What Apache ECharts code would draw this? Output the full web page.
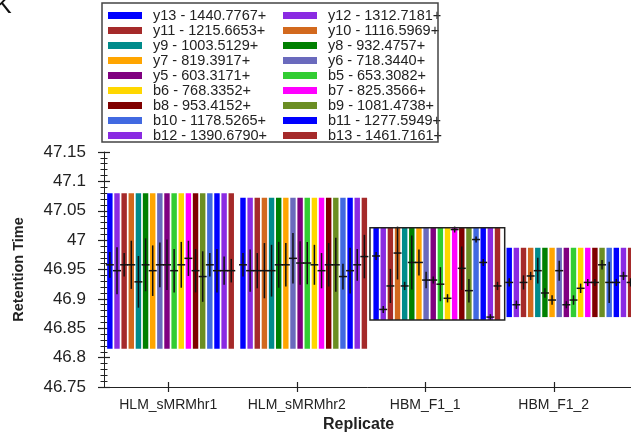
<!DOCTYPE html>
<html>
<head>
<meta charset="utf-8">
<script src="https://cdn.jsdelivr.net/npm/echarts@6/dist/echarts.min.js"></script>
<style>
html,body{margin:0;padding:0;background:#fff;}
#chart{width:631px;height:437px;}
</style>
</head>
<body>
<div id="chart"></div>
<script>
// ---- data ----
const categories = ['HLM_sMRMhr1', 'HLM_sMRMhr2', 'HBM_F1_1', 'HBM_F1_2'];
const peakStart = [46.815, 46.815, 46.864, 46.869];
const peakEnd = [47.080, 47.072, 47.021, 46.987];
const selectedReplicate = 2;
const ionNames = [
  'y13 - 1440.7767+', 'y12 - 1312.7181+', 'y11 - 1215.6653+', 'y10 - 1116.5969+',
  'y9 - 1003.5129+', 'y8 - 932.4757+', 'y7 - 819.3917+', 'y6 - 718.3440+',
  'y5 - 603.3171+', 'b5 - 653.3082+', 'b6 - 768.3352+', 'b7 - 825.3566+',
  'b8 - 953.4152+', 'b9 - 1081.4738+', 'b10 - 1178.5265+', 'b11 - 1277.5949+',
  'b12 - 1390.6790+', 'b13 - 1461.7161+'
];
const ionColors = [
  '#0000FF', '#8A2BE2', '#A52A2A', '#D2691E', '#008B8B', '#008000', '#FFA500', '#6A6ABD',
  '#800080', '#32CD32', '#FFD700', '#FF00FF', '#800000', '#6B8E23', '#4169E1', '#0000FF',
  '#8A2BE2', '#A52A2A'
];
// mean retention time per ion, per replicate
const meanRT = [
  [46.958, 46.958, 46.973, 46.928],
  [46.948, 46.948, 46.882, 46.890],
  [46.958, 46.948, 46.922, 46.928],
  [46.958, 46.948, 46.978, 46.939],
  [46.929, 46.948, 46.922, 46.948],
  [46.958, 46.958, 46.962, 46.910],
  [46.948, 46.958, 46.962, 46.898],
  [46.958, 46.969, 46.932, 46.948],
  [46.958, 46.961, 46.932, 46.890],
  [46.948, 46.961, 46.925, 46.898],
  [46.958, 46.958, 46.901, 46.918],
  [46.969, 46.948, 47.018, 46.928],
  [46.948, 46.958, 46.952, 46.928],
  [46.938, 46.958, 46.914, 46.958],
  [46.958, 46.938, 47.001, 46.928],
  [46.948, 46.948, 46.962, 46.928],
  [46.948, 46.958, 46.869, 46.939],
  [46.948, 46.972, 46.922, 46.928]
];
// standard deviation of retention time per ion, per replicate
const sdRT = [
  [0.022, 0.020, 0.007, 0.007],
  [0.040, 0.036, 0.006, 0.007],
  [0.020, 0.030, 0.029, 0.012],
  [0.041, 0.047, 0.045, 0.007],
  [0.044, 0.044, 0.007, 0.022],
  [0.045, 0.039, 0.046, 0.008],
  [0.043, 0.037, 0.022, 0.008],
  [0.038, 0.043, 0.014, 0.017],
  [0.043, 0.037, 0.006, 0.006],
  [0.037, 0.036, 0.029, 0.008],
  [0.039, 0.034, 0.007, 0.008],
  [0.030, 0.030, 0.005, 0.006],
  [0.037, 0.037, 0.037, 0.006],
  [0.043, 0.046, 0.020, 0.008],
  [0.020, 0.022, 0.005, 0.035],
  [0.037, 0.039, 0.006, 0.006],
  [0.024, 0.027, 0.005, 0.007],
  [0.020, 0.037, 0.007, 0.007]
];
const yTickLabels = ['46.75', '46.8', '46.85', '46.9', '46.95', '47', '47.05', '47.1', '47.15'];

// ---- drawing ----
const FONT = 'Liberation Sans, Arial, sans-serif';
const N = ionNames.length;
const GROUP_FRAC = 0.9655;
const SLOT = GROUP_FRAC / N;

function renderBar(params, api) {
  const k = params.seriesIndex;
  const g = api.value(0);
  const xv = g + (k - (N - 1) / 2) * SLOT;
  const pLo = api.coord([xv, api.value(1)]);
  const pHi = api.coord([xv, api.value(2)]);
  const m = api.value(3), s = api.value(4);
  const pM = api.coord([xv, m]);
  const pA = api.coord([xv, m - s]);
  const pB = api.coord([xv, m + s]);
  const bw = api.size([SLOT, 0])[0] * 0.76;
  return {
    type: 'group',
    children: [
      { type: 'rect', shape: { x: pLo[0] - bw / 2, y: pHi[1], width: bw, height: pLo[1] - pHi[1] },
        style: { fill: ionColors[k] } },
      { type: 'line', shape: { x1: pM[0], y1: pA[1], x2: pM[0], y2: pB[1] },
        style: { stroke: '#111', lineWidth: 1.5 } },
      { type: 'line', shape: { x1: pM[0] - 4, y1: pM[1], x2: pM[0] + 4, y2: pM[1] },
        style: { stroke: '#111', lineWidth: 1.5 } }
    ]
  };
}

function renderBox(params, api) {
  const g = api.value(0);
  const a = api.coord([g - 0.502, api.value(2)]);
  const b = api.coord([g + 0.51, api.value(1)]);
  return { type: 'rect', shape: { x: a[0], y: a[1], width: b[0] - a[0], height: b[1] - a[1] },
    style: { fill: 'none', stroke: '#222', lineWidth: 1.5 } };
}

const series = ionNames.map((name, k) => ({
  type: 'custom',
  name: name,
  xAxisIndex: 2,
  yAxisIndex: 0,
  itemStyle: { color: ionColors[k] },
  encode: { x: 0, y: [1, 2] },
  renderItem: renderBar,
  silent: true,
  data: categories.map((c, i) => [i, peakStart[i], peakEnd[i], meanRT[k][i], sdRT[k][i]])
}));
series.push({
  type: 'custom',
  name: 'selected',
  xAxisIndex: 2,
  yAxisIndex: 0,
  encode: { x: 0, y: [1, 2] },
  renderItem: renderBox,
  silent: true,
  z: 5,
  data: [[selectedReplicate, peakStart[selectedReplicate], peakEnd[selectedReplicate]]]
});

const legendBase = {
  orient: 'vertical',
  top: 8,
  padding: 0,
  icon: 'rect',
  itemWidth: 34,
  itemHeight: 7,
  itemGap: 0,
  selectedMode: false,
  textStyle: { fontFamily: FONT, fontSize: 14.5, lineHeight: 15, color: '#222', padding: [0, 0, 0, 6] }
};

const catData = categories.concat(['']);
const yAxisBase = {
  type: 'value', min: 46.75, max: 47.15, interval: 0.05,
  splitLine: { show: false }
};
const xCatBase = {
  type: 'category', data: catData, position: 'bottom',
  splitLine: { show: false }
};

const option = {
  animation: false,
  backgroundColor: '#fff',
  title: [
    { text: 'K', left: -5, top: -6, padding: 0,
      textStyle: { fontFamily: FONT, fontSize: 25, fontWeight: 'normal', color: '#111' } },
    { text: 'Replicate', left: 323, top: 417, padding: 0,
      textStyle: { fontFamily: FONT, fontSize: 16, fontWeight: 'bold', color: '#222' } }
  ],
  graphic: [
    { type: 'rect', shape: { x: 102, y: 3, width: 336, height: 139 },
      style: { fill: 'none', stroke: '#444', lineWidth: 1.5 }, z: 10 }
  ],
  legend: [
    Object.assign({}, legendBase, { left: 108, data: ionNames.filter((n, i) => i % 2 === 0) }),
    Object.assign({}, legendBase, { left: 283, data: ionNames.filter((n, i) => i % 2 === 1) })
  ],
  grid: { left: 104, top: 152, bottom: 50, right: -115.5, containLabel: false, outerBoundsMode: 'none' },
  xAxis: [
    Object.assign({}, xCatBase, {
      axisLine: { show: true, onZero: false, lineStyle: { color: '#222', width: 1 } },
      axisTick: { show: true, alignWithLabel: true, length: 5, lineStyle: { color: '#222', width: 1.2 } },
      axisLabel: { show: true, margin: 11, fontFamily: FONT, fontSize: 14, color: '#222', interval: 0 }
    }),
    Object.assign({}, xCatBase, {
      axisLine: { show: false, onZero: false },
      axisTick: { show: true, inside: true, alignWithLabel: true, length: 5, lineStyle: { color: '#222', width: 1.2 } },
      axisLabel: { show: false }
    }),
    { type: 'value', min: -0.5, max: 4.3265, show: false, splitLine: { show: false },
      axisLine: { onZero: false } }
  ],
  yAxis: [
    Object.assign({}, yAxisBase, {
      position: 'left',
      name: 'Retention Time', nameLocation: 'middle', nameGap: 78,
      nameTextStyle: { fontFamily: FONT, fontSize: 14.5, fontWeight: 'bold', color: '#222' },
      axisLine: { show: true, onZero: false, lineStyle: { color: '#222', width: 1 } },
      axisTick: { show: true, length: 6, lineStyle: { color: '#222', width: 1.2 } },
      minorTick: { show: true, splitNumber: 5, length: 3.5, lineStyle: { color: '#222', width: 1 } },
      axisLabel: { show: true, margin: 18, fontFamily: FONT, fontSize: 17, color: '#222',
        formatter: (v) => yTickLabels[Math.round((v - 46.75) / 0.05)] }
    }),
    Object.assign({}, yAxisBase, {
      position: 'left',
      axisLine: { show: false, onZero: false },
      axisTick: { show: true, inside: true, length: 6, lineStyle: { color: '#222', width: 1.2 } },
      minorTick: { show: true, splitNumber: 5, length: 3.5, lineStyle: { color: '#222', width: 1 } },
      axisLabel: { show: false }
    })
  ],
  series: series
};

const chart = echarts.init(document.getElementById('chart'), null, { renderer: 'canvas' });
chart.setOption(option);
</script>
</body>
</html>
